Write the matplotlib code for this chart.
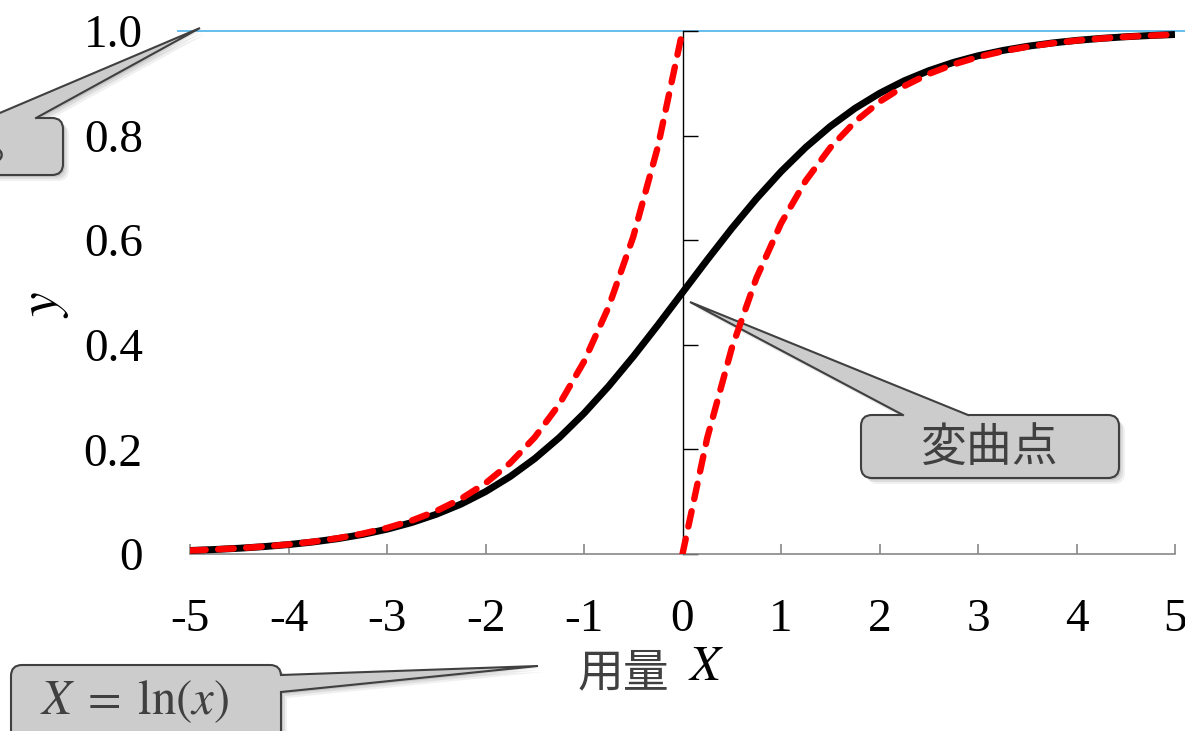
import matplotlib
matplotlib.use("Agg")
import matplotlib.pyplot as plt
from matplotlib.patches import FancyBboxPatch, Polygon
from matplotlib.transforms import Affine2D

plt.rcParams["mathtext.fontset"] = "stix"
plt.rcParams["font.family"] = ["Liberation Serif", "DejaVu Serif"]

# 用量 X（对数刻度）
X = [-5.0, -4.75, -4.5, -4.25, -4.0, -3.75, -3.5, -3.25, -3.0, -2.75, -2.5,
     -2.25, -2.0, -1.75, -1.5, -1.25, -1.0, -0.75, -0.5, -0.25, 0.0,
     0.25, 0.5, 0.75, 1.0, 1.25, 1.5, 1.75, 2.0, 2.25, 2.5,
     2.75, 3.0, 3.25, 3.5, 3.75, 4.0, 4.25, 4.5, 4.75, 5.0]
# 反应 y（S 型曲线）
y_curve = [0.0067, 0.0086, 0.0110, 0.0141, 0.0180, 0.0230, 0.0293, 0.0373, 0.0474, 0.0601, 0.0759,
           0.0953, 0.1192, 0.1480, 0.1824, 0.2227, 0.2689, 0.3208, 0.3775, 0.4378, 0.5000,
           0.5622, 0.6225, 0.6792, 0.7311, 0.7773, 0.8176, 0.8520, 0.8808, 0.9047, 0.9241,
           0.9399, 0.9526, 0.9627, 0.9707, 0.9770, 0.9820, 0.9859, 0.9890, 0.9914, 0.9933]

# 近似线：左半支与右半支
X_left = X[:21]
y_left = [0.0067, 0.0087, 0.0111, 0.0143, 0.0183, 0.0235, 0.0302, 0.0388, 0.0498, 0.0639, 0.0821,
          0.1054, 0.1353, 0.1738, 0.2231, 0.2865, 0.3679, 0.4724, 0.6065, 0.7788, 1.0000]
X_right = X[20:]
y_right = [0.0000, 0.2212, 0.3935, 0.5276, 0.6321, 0.7135, 0.7769, 0.8262, 0.8647, 0.8946, 0.9179,
           0.9361, 0.9502, 0.9612, 0.9698, 0.9765, 0.9817, 0.9857, 0.9889, 0.9913, 0.9933]

x_ticks = [-5, -4, -3, -2, -1, 0, 1, 2, 3, 4, 5]
x_ticklabels = ["-5", "-4", "-3", "-2", "-1", "0", "1", "2", "3", "4", "5"]
y_ticks = [0, 0.2, 0.4, 0.6, 0.8, 1.0]
y_ticklabels = ["0", "0.2", "0.4", "0.6", "0.8", "1.0"]

W, H = 1185, 731
fig = plt.figure(figsize=(W / 100, H / 100), dpi=100)
ax = fig.add_axes([190 / W, 1 - 554 / H, 985 / W, 523 / H])
ax.set_xlim(-5, 5)
ax.set_ylim(0, 1)

ax.axhline(1.0, xmin=-0.012, xmax=1.02, color="#5bb8ea", lw=1.3, clip_on=False, zorder=1)
ax.plot(X, y_curve, color="black", lw=5.0, zorder=4, solid_capstyle="butt")
for xs, ys in [(X_left, y_left), (X_right, y_right)]:
    ax.plot(xs, ys, color="red", lw=4.6, dashes=(2.45, 1.95), dash_capstyle="round", zorder=5)

# 坐标轴：x 轴灰色，y 轴画在 X=0 处
ax.spines["top"].set_visible(False)
ax.spines["left"].set_visible(False)
ax.spines["bottom"].set_color("#888888")
ax.spines["bottom"].set_linewidth(1.2)
ax.spines["right"].set_position(("data", 0))
ax.spines["right"].set_linewidth(1.0)

ax.set_xticks(x_ticks)
ax.set_xticklabels(x_ticklabels)
ax.set_yticks(y_ticks)
ax.set_yticklabels(y_ticklabels)
ax.tick_params(axis="x", direction="in", length=7, width=1.2, color="#888888",
               pad=32, labelsize=34)
ax.tick_params(axis="y", left=False, labelleft=True, right=True, labelright=False,
               direction="out", length=11, width=1.0, pad=23, labelsize=34)

# 像素坐标（左上角为原点）
px = Affine2D().scale(1 / W, -1 / H).translate(0, 1) + fig.transFigure

fig.text(45 / W, 1 - 305 / H, r"$y$", fontsize=40, rotation=90, ha="center", va="center")
fig.text(623 / W, 1 - 673 / H, "用量", fontsize=33, color="#404040",
         family=["Noto Sans CJK JP"], ha="center", va="center")
fig.text(706 / W, 1 - 668 / H, r"$X$", fontsize=36, ha="center", va="center")


def callout(box, base, inward, tip, text, tx, ty, **kw):
    x0, y0, x1, y1 = box
    for k, a in [(6, 0.06), (4, 0.08), (2, 0.10)]:
        ax.add_patch(FancyBboxPatch((x0 + k, y0 + k), x1 - x0, y1 - y0,
                                    boxstyle="round,pad=0,rounding_size=11",
                                    transform=px, fc="black", ec="none", alpha=a,
                                    clip_on=False, zorder=2))
        ax.add_patch(Polygon([(base[0][0] + k, base[0][1] + k), (tip[0] + k, tip[1] + k),
                              (base[1][0] + k, base[1][1] + k)],
                             transform=px, fc="black", ec="none", alpha=a,
                             clip_on=False, zorder=2))
    ax.add_patch(FancyBboxPatch((x0, y0), x1 - x0, y1 - y0,
                                boxstyle="round,pad=0,rounding_size=11",
                                transform=px, fc="#cccccc", ec="#404040", lw=1.5,
                                clip_on=False, zorder=3))
    b1 = (base[0][0] + inward[0], base[0][1] + inward[1])
    b2 = (base[1][0] + inward[0], base[1][1] + inward[1])
    ax.add_patch(Polygon([b1, base[0], tip, base[1], b2], transform=px,
                         fc="#cccccc", ec="none", clip_on=False, zorder=3.1))
    ax.plot([base[0][0], tip[0], base[1][0]], [base[0][1], tip[1], base[1][1]],
            transform=px, color="#404040", lw=1.5, clip_on=False, zorder=3.2,
            solid_joinstyle="miter")
    ax.text(tx, ty, text, transform=px, ha="center", va="center", color="#404040",
            clip_on=False, zorder=3.3, **kw)


callout((861, 415, 1119, 478), [(903, 415), (968, 415)], (0, 3), (690, 302),
        "変曲点", 990, 448, fontsize=33, family=["Noto Sans CJK JP"])
callout((-80, 118, 63, 175), [(-12, 118), (36, 118)], (0, 3), (200, 28),
        "。", 9, 146, fontsize=33, family=["Noto Sans CJK JP"])
callout((11, 665, 281, 760), [(281, 675), (281, 692)], (-3, 0), (538, 666),
        r"$X\;=\;\ln(x)$", 135, 702, fontsize=35)

fig.savefig("out.png", dpi=100)
